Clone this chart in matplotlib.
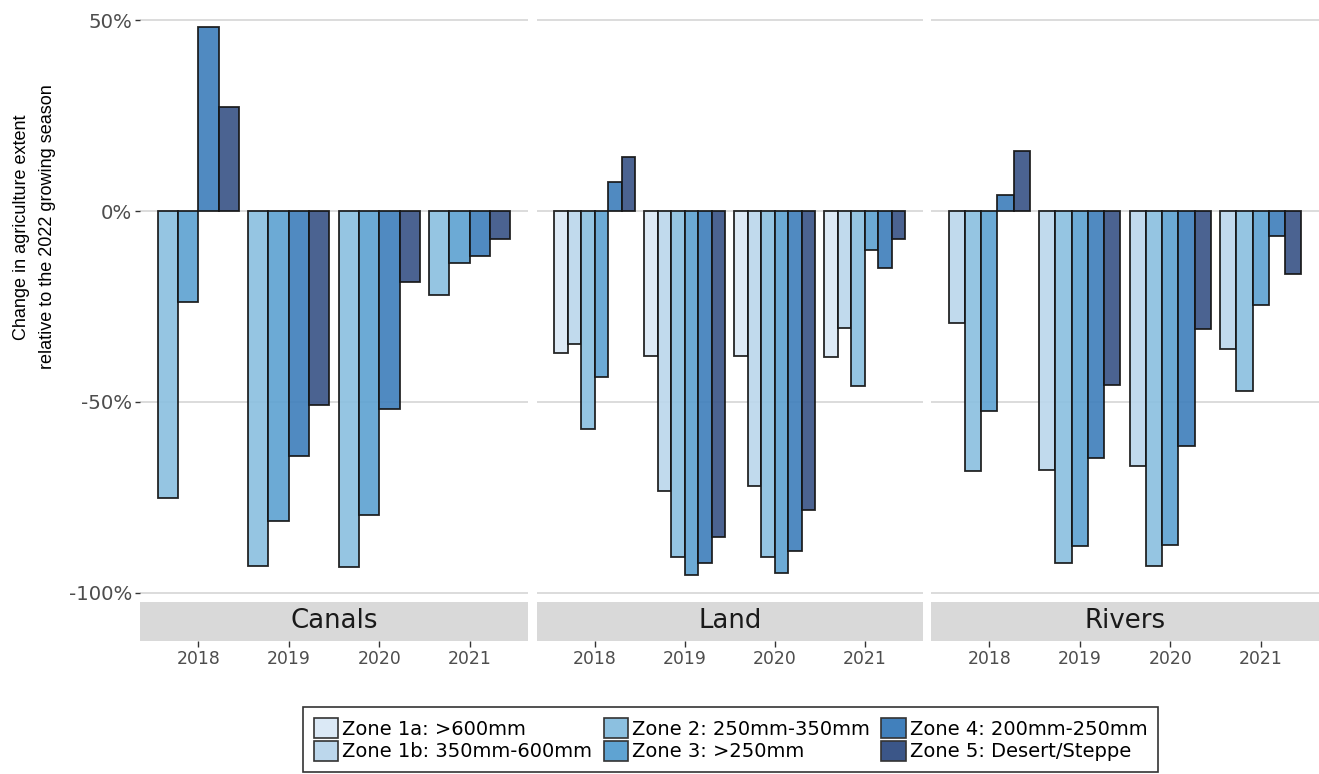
import matplotlib
matplotlib.use("Agg")
import matplotlib.pyplot as plt
from matplotlib.patches import Patch
from matplotlib.ticker import FuncFormatter

plt.rcParams['font.family'] = ['DejaVu Sans']
plt.rcParams['savefig.bbox'] = 'standard'

years = [2018, 2019, 2020, 2021]
zone_labels = [
    "Zone 1a: >600mm",
    "Zone 1b: 350mm-600mm",
    "Zone 2: 250mm-350mm",
    "Zone 3: >250mm",
    "Zone 4: 200mm-250mm",
    "Zone 5: Desert/Steppe",
]
zone_colors = ["#dbe9f6", "#bcd7ec", "#8cc0e0", "#5fa3d2", "#4180bc", "#3b5688"]

# Percent change vs 2022, per zone, for 2018-2021
canals_z2 = [-75.1, -92.9, -93.2, -21.9]
canals_z3 = [-23.9, -81.2, -79.7, -13.7]
canals_z4 = [48.1, -64.2, -51.8, -11.8]
canals_z5 = [27.3, -50.9, -18.6, -7.3]

land_z1a = [-37.1, -38.0, -37.9, -38.3]
land_z1b = [-34.8, -73.2, -71.9, -30.7]
land_z2 = [-57.1, -90.6, -90.5, -45.9]
land_z3 = [-43.5, -95.2, -94.8, -10.3]
land_z4 = [7.7, -92.1, -89.0, -14.8]
land_z5 = [14.1, -85.3, -78.2, -7.4]

rivers_z1b = [-29.2, -67.9, -66.8, -36.1]
rivers_z2 = [-68.1, -92.1, -92.9, -47.1]
rivers_z3 = [-52.3, -87.8, -87.4, -24.7]
rivers_z4 = [4.3, -64.7, -61.4, -6.5]
rivers_z5 = [15.7, -45.6, -30.9, -16.4]

facet_names = ["Canals", "Land", "Rivers"]
facet_series = [
    [(2, canals_z2), (3, canals_z3), (4, canals_z4), (5, canals_z5)],
    [(0, land_z1a), (1, land_z1b), (2, land_z2), (3, land_z3), (4, land_z4), (5, land_z5)],
    [(1, rivers_z1b), (2, rivers_z2), (3, rivers_z3), (4, rivers_z4), (5, rivers_z5)],
]

W, H = 1319, 774
fig = plt.figure(figsize=(W / 100, H / 100), dpi=100)
fig.patch.set_facecolor("white")

panel_px = [(140, 528), (536.5, 923), (931, 1319)]
panel_bottom = 602
strip_bottom = 641
ylim = (-102.36, 55.24)
xlim = (0.355, 4.645)
group_width = 0.9

pct = FuncFormatter(lambda v, pos: f"{v:.0f}%")

for k, (name, series) in enumerate(zip(facet_names, facet_series)):
    x0, x1 = panel_px[k]
    ax = fig.add_axes([x0 / W, 1 - panel_bottom / H, (x1 - x0) / W, panel_bottom / H])
    ax.set_xlim(*xlim)
    ax.set_ylim(*ylim)
    ax.set_axisbelow(True)
    for s in ax.spines.values():
        s.set_visible(False)
    ax.set_yticks([-100, -50, 0, 50])
    ax.yaxis.set_major_formatter(pct)
    ax.grid(axis="y", color="#dcdcdc", linewidth=1.4)
    ax.tick_params(axis="x", bottom=False, labelbottom=False)
    if k == 0:
        ax.tick_params(axis="y", length=3.5, width=1.0, color="#333333",
                       labelcolor="#4d4d4d", labelsize=14.2, pad=2)
    else:
        ax.tick_params(axis="y", left=False, labelleft=False)

    for j, year in enumerate(years):
        present = [(zi, vals[j]) for zi, vals in series if vals[j] is not None]
        n = len(present)
        w = group_width / n
        for i, (zi, v) in enumerate(present):
            xc = (j + 1) - group_width / 2 + (i + 0.5) * w
            ax.bar(xc, v, width=w, color=zone_colors[zi], alpha=0.92,
                   edgecolor="#141414", linewidth=1.3, zorder=2)

    sax = fig.add_axes([x0 / W, 1 - strip_bottom / H, (x1 - x0) / W,
                        (strip_bottom - panel_bottom) / H])
    sax.set_facecolor("#d9d9d9")
    for s in sax.spines.values():
        s.set_visible(False)
    sax.set_xlim(*xlim)
    sax.set_ylim(0, 1)
    sax.set_yticks([])
    sax.set_xticks(range(1, len(years) + 1))
    sax.set_xticklabels([str(y) for y in years])
    sax.tick_params(axis="x", length=4.5, width=1.0, color="#333333",
                    labelcolor="#4d4d4d", labelsize=12.4, pad=2)
    sax.text(0.5, 0.5, name, transform=sax.transAxes, ha="center", va="center",
             fontsize=18.7, color="#1a1a1a")

fig.text(34.5 / W, 1 - 227 / H,
         "Change in agriculture extent\nrelative to the 2022 growing season",
         rotation=90, ha="center", va="center", fontsize=13,
         family=["Liberation Sans", "DejaVu Sans"],
         color="black", linespacing=1.65, multialignment="center")

handles = [Patch(facecolor=c, edgecolor="#333333", linewidth=1.2) for c in zone_colors]
leg = fig.legend(handles, zone_labels, loc="upper center",
                 bbox_to_anchor=(730.5 / W, 1 - 707 / H), ncol=3,
                 frameon=True, fancybox=False, edgecolor="black",
                 fontsize=14.0, handlelength=1.26, handleheight=1.26,
                 labelspacing=0.1, handletextpad=0.2, columnspacing=0.6,
                 borderpad=0.55, borderaxespad=0)
leg.get_frame().set_linewidth(1.2)

fig.savefig("out.png", dpi=100)
